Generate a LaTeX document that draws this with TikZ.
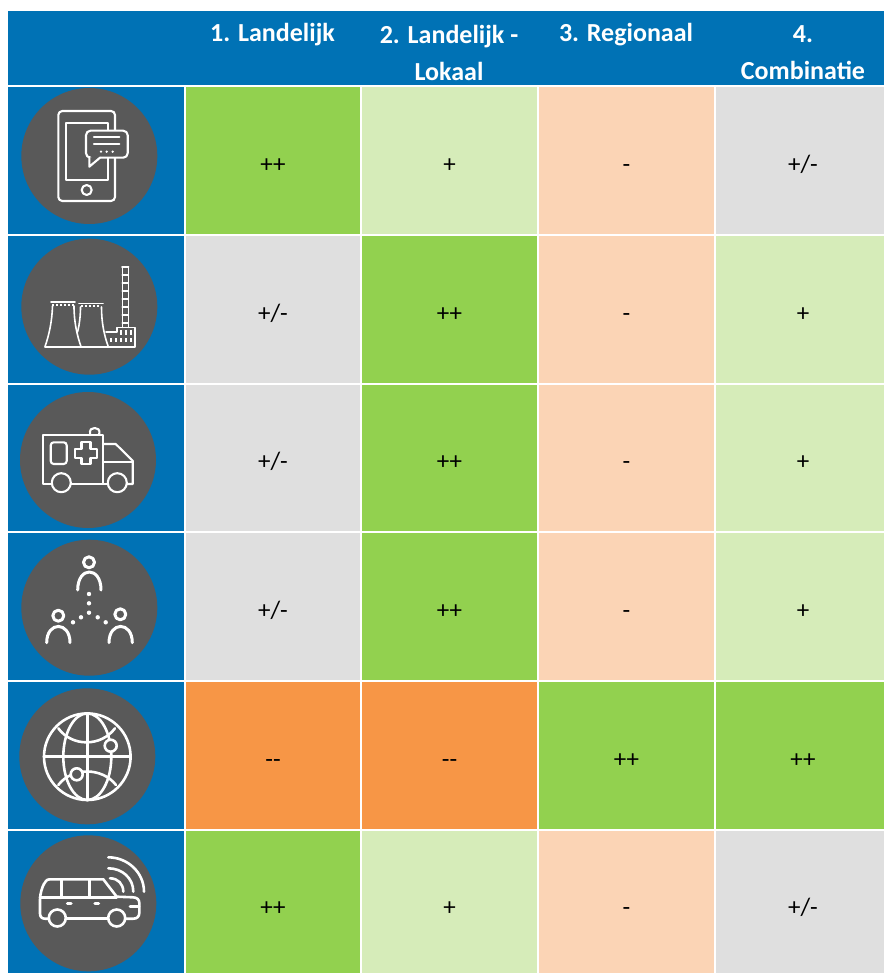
\documentclass[tikz,border=0pt]{standalone}
\usepackage{fontspec}
\setmainfont{Carlito}
\definecolor{hblue}{HTML}{0072B5}
\definecolor{cgreen}{HTML}{92D14F}
\definecolor{clight}{HTML}{D6ECB9}
\definecolor{cpeach}{HTML}{FBD4B5}
\definecolor{cgrey}{HTML}{DFDFDF}
\definecolor{corange}{HTML}{F79646}
\definecolor{disc}{HTML}{595959}
\tikzset{
  cellbox/.style={anchor=north west,inner sep=0pt,outer sep=0pt,font=\fontsize{25}{28}\selectfont,text=black},
  headbox/.style={anchor=north west,inner sep=0pt,outer sep=0pt,fill=hblue},
  headtext/.style={anchor=center,inner sep=0pt,align=center,text=white,font=\fontsize{26}{37}\selectfont\bfseries},
  icondisc/.style={circle,fill=disc,inner sep=0pt,minimum size=136pt},
  ico/.style={draw=white,line width=2.1pt,line join=round,line cap=round},
  icob/.style={draw=white,line width=2.6pt,line join=round,line cap=round},
  icod/.style={fill=white,draw=none}
}
\begin{document}
\begin{tikzpicture}[x=1pt,y=-1pt]
\useasboundingbox (0,0) rectangle (884,973);
\fill[white] (0,0) rectangle (884,973);
% header
\node[headbox,minimum width=876pt,minimum height=74pt] (header) at (8,11) {};
\node[headtext] (h1) at (272.5,34.5) {1. Landelijk};
\node[headtext] (h2) at (449,52.5) {2. Landelijk -\\Lokaal};
\node[headtext] (h3) at (626,34.5) {3. Regionaal};
\node[headtext] (h4) at (803,52.5) {4.\\Combinatie};
% left column
\foreach \n/\y/\h in {1/87/147,2/236/147,3/385/146,4/533/147,5/682/147,6/831/142}
  \node[headbox,minimum width=176pt,minimum height=\h pt] (side\n) at (8,\y) {};
% cells
\foreach \r/\y/\h/\rs/\ca/\ta/\cb/\tb/\cc/\tc/\cd/\td in {
  1/87/147/-12/cgreen/{++}/clight/{+}/cpeach/{-}/cgrey/{+/-},
  2/236/147/-11.5/cgrey/{+/-}/cgreen/{++}/cpeach/{-}/clight/{+},
  3/385/146/-11.5/cgrey/{+/-}/cgreen/{++}/cpeach/{-}/clight/{+},
  4/533/147/-11.5/cgrey/{+/-}/cgreen/{++}/cpeach/{-}/clight/{+},
  5/682/147/-12/corange/{{-}{-}}/corange/{{-}{-}}/cgreen/{++}/cgreen/{++},
  6/831/142/-13.5/cgreen/{++}/clight/{+}/cpeach/{-}/cgrey/{+/-}}{
  \node[cellbox,fill=\ca,minimum width=174pt,minimum height=\h pt] (c\r a) at (186,\y) {\raisebox{\rs pt}[0pt][0pt]{\ta}};
  \node[cellbox,fill=\cb,minimum width=175pt,minimum height=\h pt] (c\r b) at (362,\y) {\raisebox{\rs pt}[0pt][0pt]{\tb}};
  \node[cellbox,fill=\cc,minimum width=175pt,minimum height=\h pt] (c\r c) at (539,\y) {\raisebox{\rs pt}[0pt][0pt]{\tc}};
  \node[cellbox,fill=\cd,minimum width=168pt,minimum height=\h pt,xshift=0pt] (c\r d) at (716,\y) {\hspace*{6pt}\raisebox{\rs pt}[0pt][0pt]{\td}};
}
% discs
\node[icondisc] (d1) at (89.3,156) {};
\node[icondisc] (d2) at (89.3,306.7) {};
\node[icondisc] (d3) at (88,460) {};
\node[icondisc] (d4) at (89.3,607.7) {};
\node[icondisc] (d5) at (87.3,756.3) {};
\node[icondisc] (d6) at (88.3,903.3) {};
% phone
\draw[ico,rounded corners=4pt] (58.3,111) rectangle (115,201);
\draw[ico] (65.7,123.3) rectangle (107.7,180);
\draw[ico] (86.7,190) circle[radius=5];
\draw[ico,fill=disc,rounded corners=4.5pt] (100,157.7) -- (127.7,157.7) -- (127.7,130.7) -- (86,130.7) -- (86,157.7) -- (89.3,157.7);
\draw[ico,fill=disc] (89.3,157.2) -- (89.3,166.7) -- (100,157.7);
\draw[ico] (94,136.7) -- (119.3,136.7) (94,144) -- (119.3,144);
\foreach \x in {101,106.7,112.7} \fill[icod] (\x,151.7) circle[radius=1.3];
% factory
\begin{scope}[ico,line width=1.6pt]
\draw (45,346.7) -- (108.3,346.7);
\draw (51,301.7) -- (75,301.7) (79,303.5) -- (103,303.5);
\draw (52.5,306) .. controls (52,322) and (49,335) .. (45,346.7);
\draw (74,306) .. controls (74,322) and (77,335) .. (81,346.7);
\draw (80.5,307) .. controls (80.5,315) and (79.5,325) .. (77.5,332);
\draw (101.5,307) .. controls (101.5,322) and (104,335) .. (108.3,346.7);
\draw (106,331.7) -- (116.7,331.7) -- (116.7,327.3) -- (135,327.3) -- (135,346.7) -- (108,346.7);
\draw (122.3,327.3) -- (122.3,268) (128.3,268) -- (128.3,327.3);
\draw (122,267) -- (128.6,267);
\foreach \y in {275,283,291,299,307,315,323} \draw (122.3,\y) -- (128.3,\y);
\end{scope}
\foreach \x in {53,57,61,65,69,73} \fill[icod] (\x-0.9,303.5) rectangle (\x+0.9,305.5);
\foreach \x in {82,86,90,94,98} \fill[icod] (\x-0.9,305.2) rectangle (\x+0.9,307.2);
\foreach \x in {111,116,121,126,131} \fill[icod] (\x-0.9,338) rectangle (\x+0.9,342);
\foreach \x in {120.7,125.7,130.7} \fill[icod] (\x-0.9,330) rectangle (\x+0.9,335);
% ambulance
\begin{scope}[ico]
\draw (51.8,484) -- (43.3,484) -- (43.3,435) -- (103.3,435) -- (103.3,484);
\draw (71,484) -- (107.8,484);
\draw (103.3,444) -- (115.7,444) -- (132.7,460.7) -- (132.7,484) -- (126.8,484);
\draw (103.3,461.7) -- (132.7,461.7);
\draw (61.3,482.7) circle[radius=9.5] (117.3,482.7) circle[radius=9.5];
\draw[rounded corners=3pt] (50.7,442.3) rectangle (66.7,464);
\draw (81.5,442.3) -- (90.5,442.3) -- (90.5,448.8) -- (97,448.8) -- (97,457.8) -- (90.5,457.8) -- (90.5,464.3) -- (81.5,464.3) -- (81.5,457.8) -- (75,457.8) -- (75,448.8) -- (81.5,448.8) -- cycle;
\draw (90.2,435) .. controls (89,429) and (92,428) .. (94.7,428) .. controls (97.4,428) and (100.4,429) .. (99.2,435);
\end{scope}
% people
\begin{scope}[icob,line width=3pt]
\draw (89,562.3) circle[radius=5.5] (58.3,615.7) circle[radius=5.5] (120.3,614.3) circle[radius=5.5];
\draw (77.7,590) .. controls (77.7,566) and (101,566) .. (101,590);
\draw (46.7,642.7) .. controls (46.7,621) and (70,621) .. (70,642.7);
\draw (109,642.7) .. controls (109,621) and (132.3,621) .. (132.3,642.7);
\end{scope}
\foreach \x/\y in {89/594,89/603.3,89/612.7,81/617.3,73/622.3,97.7/617.3,105.7/622.3}
  \fill[icod] (\x,\y) circle[radius=2.2];
% globe
\begin{scope}[icob]
\draw (87.3,756.7) circle[radius=43.3];
\draw (87.3,756.7) ellipse[x radius=24,y radius=43.3];
\draw (87.3,713.4) -- (87.3,800) (44,756.7) -- (130.6,756.7);
\draw (58.3,728.3) .. controls (72,747) and (101,747) .. (115,728.3);
\draw (58.3,785) .. controls (72,767) and (102,767) .. (116,785);
\draw[fill=disc] (110.7,745.7) circle[radius=6] (76.7,774.3) circle[radius=6];
\end{scope}
% van
\begin{scope}[icob]
\draw (48.5,918.7) -- (45,918.7) .. controls (41.5,918.7) and (40,916.5) .. (40,913.3) -- (40,900) .. controls (40,893) and (43,884) .. (46,881) .. controls (47,879.8) and (48,879.3) .. (50,879.3) -- (103.3,879.3) -- (116.7,896.7) -- (133,897.3) .. controls (137,897.5) and (139.3,899.5) .. (139.3,903) -- (139.3,913) .. controls (139.3,916.5) and (137,918.7) .. (133.3,918.7) -- (125.5,918.7);
\draw (66,918.7) -- (108,918.7);
\draw (40,897.3) -- (116.7,897.3);
\draw (61.7,879.3) -- (61.7,897.3) (89.3,879.3) -- (89.3,897.3);
\draw (57.3,918) circle[radius=8.5] (116.7,918) circle[radius=8.5];
\draw (130,906.7) -- (139,906.7);
\draw[line width=3.5pt] (67.5,903.3) -- (71,903.3) (95,903.3) -- (98.5,903.3);
\draw (108.3,857.3) .. controls (127.6,857.3) and (144,872.5) .. (144,891.7);
\draw (108.3,868.3) .. controls (122,868.3) and (133.3,878) .. (133.3,891.7);
\draw (110,878.3) .. controls (118,878.3) and (123.3,884) .. (123.3,891.7);
\end{scope}
\end{tikzpicture}
\end{document}
